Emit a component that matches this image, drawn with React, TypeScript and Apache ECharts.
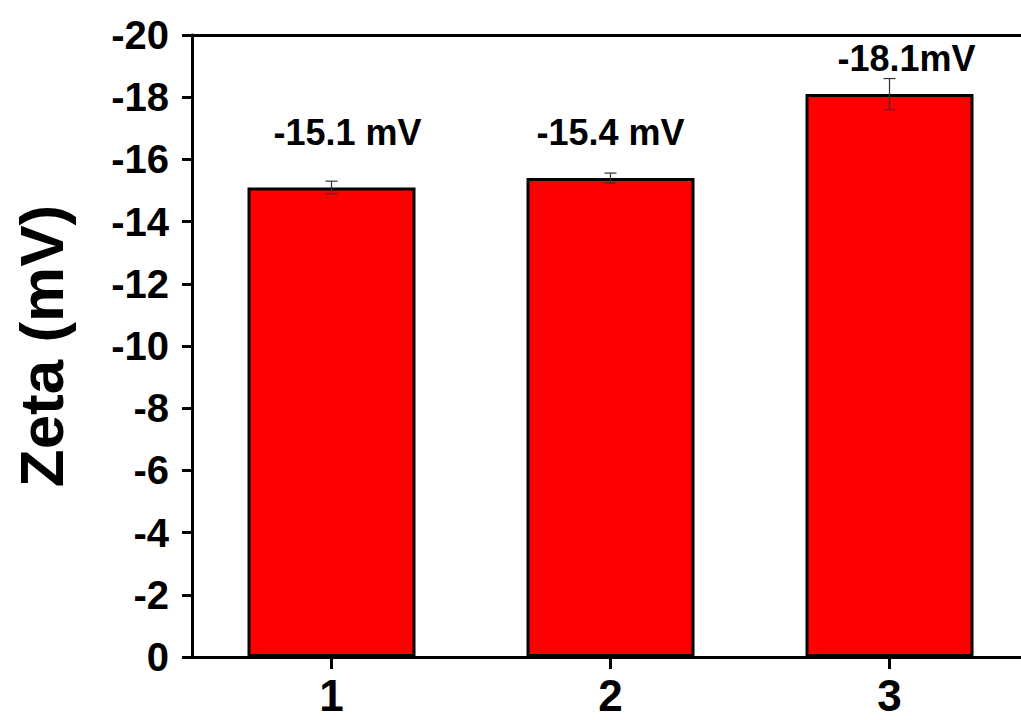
import React, { useEffect, useRef } from "react";
import * as echarts from "echarts";

const categories = ["1", "2", "3"];
const zetaValues = [-15.1, -15.4, -18.1];
const zetaErrors = [0.2, 0.16, 0.5];
const valueLabels = ["-15.1 mV", "-15.4 mV", "-18.1mV"];
const yMin = -20;
const yMax = 0;
const yInterval = 2;

export default function App() {
  const ref = useRef<HTMLDivElement>(null);
  useEffect(() => {
    document.body.style.margin = "0";
    const chart = echarts.init(ref.current!, null, { renderer: "svg" });
    const font = "'Liberation Sans', Arial, sans-serif";
    const labelOffsets = [
      [16, -55],
      [0, -46],
      [17, -36],
    ];
    const axisLine = { show: true, lineStyle: { color: "#000", width: 3 } };
    chart.setOption({
      animation: false,
      backgroundColor: "#fff",
      grid: {
        left: 192,
        top: 35,
        width: 837,
        height: 622,
        containLabel: false,
        outerBoundsMode: "none",
      },
      xAxis: [
        {
          type: "category",
          data: categories,
          position: "bottom",
          axisLine,
          axisTick: {
            show: true,
            alignWithLabel: true,
            length: 12,
            lineStyle: { color: "#000", width: 3 },
          },
          axisLabel: {
            fontSize: 44,
            fontWeight: "bold",
            color: "#000",
            fontFamily: font,
            margin: 16,
          },
        },
        {
          type: "category",
          data: categories,
          position: "top",
          axisLine,
          axisTick: { show: false },
          axisLabel: { show: false },
        },
      ],
      yAxis: {
        type: "value",
        min: yMin,
        max: yMax,
        interval: yInterval,
        inverse: true,
        axisLine,
        axisTick: {
          show: true,
          length: 10,
          lineStyle: { color: "#000", width: 3 },
        },
        axisLabel: {
          fontSize: 40,
          fontWeight: "bold",
          color: "#000",
          fontFamily: font,
          margin: 23,
        },
        splitLine: { show: false },
        name: "Zeta (mV)",
        nameLocation: "middle",
        nameGap: 120,
        nameTextStyle: {
          fontSize: 62,
          fontWeight: "bold",
          color: "#000",
          fontFamily: font,
        },
      },
      series: [
        {
          type: "bar",
          data: zetaValues,
          barWidth: 168,
          itemStyle: { color: "#ff0000", borderColor: "#000", borderWidth: 3 },
          z: 2,
        },
        {
          type: "custom",
          data: zetaValues.map((v, i) => [i, v - zetaErrors[i], v + zetaErrors[i]]),
          encode: { x: 0, y: [1, 2] },
          z: 5,
          renderItem: (params: any, api: any) => {
            const i = api.value(0);
            const lo = api.coord([i, api.value(1)]);
            const hi = api.coord([i, api.value(2)]);
            const w = 6;
            const st = { stroke: "#333", lineWidth: 1.2 };
            return {
              type: "group",
              children: [
                { type: "line", shape: { x1: lo[0], y1: lo[1], x2: hi[0], y2: hi[1] }, style: st },
                { type: "line", shape: { x1: lo[0] - w, y1: lo[1], x2: lo[0] + w, y2: lo[1] }, style: st },
                { type: "line", shape: { x1: hi[0] - w, y1: hi[1], x2: hi[0] + w, y2: hi[1] }, style: st },
              ],
            };
          },
        },
        {
          type: "custom",
          data: zetaValues.map((v, i) => [i, v]),
          encode: { x: 0, y: 1 },
          z: 6,
          renderItem: (params: any, api: any) => {
            const idx = params.dataIndex;
            const p = api.coord([api.value(0), api.value(1)]);
            const off = labelOffsets[idx];
            return {
              type: "text",
              x: p[0] + off[0],
              y: p[1] + off[1],
              style: {
                text: valueLabels[idx],
                fill: "#000",
                fontSize: 36,
                fontWeight: "bold",
                fontFamily: font,
                align: "center",
                verticalAlign: "middle",
              },
            };
          },
        },
      ],
    });
    return () => chart.dispose();
  }, []);
  return <div ref={ref} style={{ width: 1021, height: 720 }} />;
}
